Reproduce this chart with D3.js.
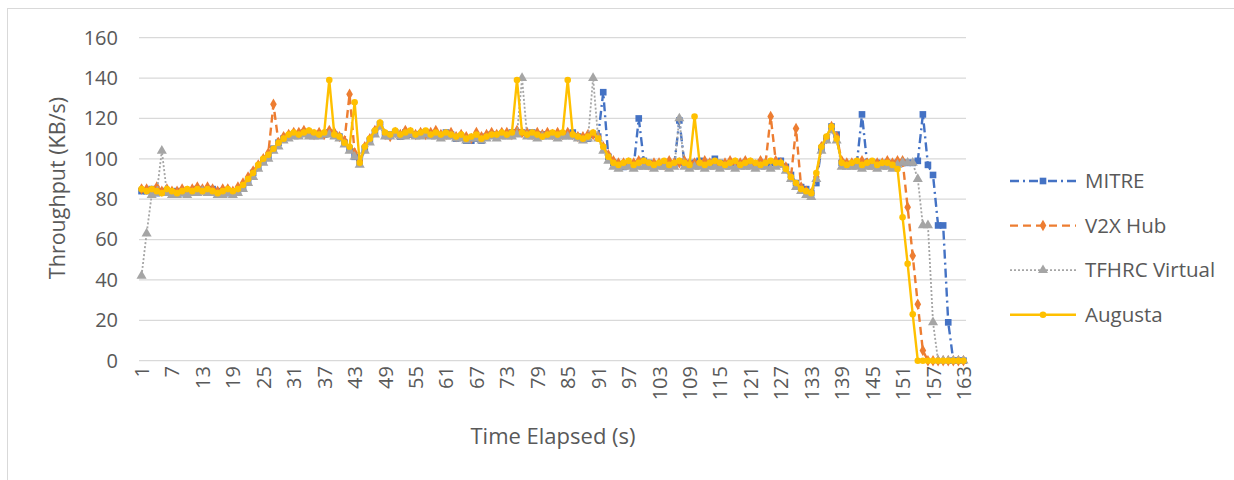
<!DOCTYPE html>
<html>
<head>
<meta charset="utf-8">
<script src="https://d3js.org/d3.v7.min.js"></script>
<style>
  body { margin: 0; background: #fff; }
  text { font-family: "Open Sans", sans-serif; fill: #595959; }
</style>
</head>
<body>
<script>
// seconds 1..163
var seconds = d3.range(1, 164);
var yTicks = [0, 20, 40, 60, 80, 100, 120, 140, 160];

var mitre = [
  84, 84, 85, 83, 84, 84, 83, 84, 83, 84,
  84, 85, 84, 84, 85, 84, 83, 83, 83,
  84, 86, 89, 93, 96, 99, 101, 105, 108, 110, 111,
  112, 112, 113, 113, 112, 112, 112, 113, 112, 111,
  108, 105, 101, 98, 105, 109, 113, 117, 112, 112,
  113, 111, 113, 112, 112, 112, 113, 112, 112, 111,
  113, 112, 110, 111, 109, 109, 110, 109, 111, 112,
  111, 112, 112, 113, 113, 113, 112, 113, 111, 112,
  112, 112, 111, 112, 112, 113, 111, 110, 110, 112,
  111, 133, 101, 98, 97, 96, 97, 96, 120, 99,
  98, 96, 97, 98, 97, 97, 119, 98, 97, 98,
  99, 97, 98, 100, 98, 97, 97, 98, 97, 98,
  98, 97, 98, 97, 98, 98, 99, 96, 92, 88,
  86, 85, 83, 88, 105, 110, 116, 112, 98, 97,
  97, 98, 122, 98, 97, 98, 97, 98, 97, 98,
  98, 98, 98, 99, 122, 97, 92, 67, 67, 19, 0, 0, 0
];

var v2xHub = [
  85, 85, 84, 86, 84, 85, 84, 84, 85, 84,
  85, 86, 85, 86, 85, 84, 85, 85, 84,
  86, 88, 91, 94, 97, 100, 103, 127, 108, 111, 112,
  113, 113, 114, 113, 112, 113, 112, 114, 113, 111,
  109, 132, 103, 99, 106, 110, 114, 117, 112, 111,
  113, 112, 114, 113, 112, 113, 112, 113, 114, 112,
  112, 113, 111, 112, 111, 110, 113, 111, 112, 113,
  112, 113, 113, 112, 114, 113, 113, 112, 113, 112,
  113, 112, 113, 112, 113, 112, 111, 111, 112, 112,
  111, 106, 102, 99, 98, 98, 98, 98, 99, 98,
  97, 98, 98, 97, 99, 98, 98, 99, 98, 98,
  98, 99, 98, 98, 97, 98, 99, 98, 98, 99,
  98, 97, 99, 98, 121, 99, 98, 96, 91, 115,
  86, 84, 83, 91, 106, 110, 116, 111, 99, 98,
  98, 98, 99, 98, 97, 98, 98, 99, 98, 99,
  99, 76, 52, 28, 5, 0, 0, 0, 0, 0, 0, 0, 0
];

var tfhrc = [
  42, 63, 82, 83, 104, 83, 82, 82, 83, 82,
  83, 83, 84, 83, 83, 82, 82, 83, 82,
  83, 85, 88, 91, 95, 98, 100, 104, 106, 109, 110,
  111, 111, 112, 111, 111, 111, 112, 112, 111, 110,
  107, 104, 101, 97, 104, 108, 112, 116, 111, 111,
  112, 111, 111, 112, 111, 111, 112, 111, 111, 110,
  111, 111, 110, 110, 109, 110, 110, 109, 110, 111,
  110, 111, 111, 111, 112, 140, 111, 111, 110, 111,
  111, 111, 110, 111, 111, 111, 110, 109, 110, 140,
  110, 104, 99, 96, 95, 96, 96, 95, 96, 96,
  96, 95, 96, 96, 95, 96, 120, 96, 95, 96,
  96, 95, 96, 96, 95, 96, 96, 95, 96, 96,
  96, 95, 96, 96, 95, 96, 97, 94, 90, 86,
  84, 82, 81, 90, 104, 109, 114, 109, 96, 96,
  96, 96, 95, 96, 96, 95, 96, 96, 95, 97,
  98, 98, 98, 90, 67, 67, 19, 0, 0, 0, 0, 0, 0
];

var augusta = [
  85, 84, 85, 84, 83, 85, 84, 83, 84, 85,
  84, 85, 84, 85, 84, 83, 84, 85, 84,
  85, 87, 90, 93, 97, 100, 102, 105, 108, 110, 112,
  113, 112, 113, 114, 113, 112, 113, 139, 112, 111,
  108, 106, 128, 98, 106, 110, 114, 118, 113, 112,
  114, 112, 113, 114, 112, 113, 114, 112, 113, 112,
  113, 112, 111, 112, 110, 111, 112, 110, 111, 112,
  112, 113, 112, 113, 139, 113, 112, 113, 112, 111,
  112, 113, 112, 113, 139, 112, 111, 110, 111, 113,
  110, 106, 101, 98, 97, 98, 99, 97, 98, 99,
  98, 97, 98, 99, 97, 98, 99, 98, 97, 121,
  98, 97, 98, 99, 98, 97, 98, 99, 97, 98,
  99, 98, 97, 98, 99, 98, 98, 95, 91, 88,
  85, 84, 83, 93, 106, 111, 116, 110, 98, 97,
  98, 99, 97, 98, 99, 97, 98, 98, 97, 95,
  71, 48, 23, 0, 0, 0, 0, 0, 0, 0, 0, 0, 0
];

var series = [
  { name: "MITRE", values: mitre, color: "#4472C4", dash: "9,4,2,4", width: 2.4, symbol: d3.symbolSquare, size: 44 },
  { name: "V2X Hub", values: v2xHub, color: "#ED7D31", dash: "8,5", width: 2.4, symbol: d3.symbolDiamond, size: 38 },
  { name: "TFHRC Virtual", values: tfhrc, color: "#A5A5A5", dash: "2,2", width: 1.8, symbol: d3.symbolTriangle, size: 44 },
  { name: "Augusta", values: augusta, color: "#FFC000", dash: null, width: 2.4, symbol: d3.symbolCircle, size: 34 }
];

var W = 1234, H = 480;
var svg = d3.select("body").append("svg").attr("width", W).attr("height", H);

// outer frame
svg.append("rect").attr("x", 7.5).attr("y", 8.5).attr("width", 1300).attr("height", 500)
  .attr("fill", "none").attr("stroke", "#D9D9D9").attr("stroke-width", 1);

var x = d3.scalePoint().domain(seconds).range([139, 966]).padding(0.5);
var y = d3.scaleLinear().domain([0, 160]).range([360.7, 37.7]);

// gridlines
svg.append("g").selectAll("line").data(yTicks).join("line")
  .attr("x1", 139).attr("x2", 966)
  .attr("y1", function(d) { return y(d); }).attr("y2", function(d) { return y(d); })
  .attr("stroke", "#D9D9D9").attr("stroke-width", 1.3);

// y axis labels
var yAxis = d3.axisLeft(y).tickValues(yTicks).tickSize(0).tickPadding(0);
var gy = svg.append("g").attr("transform", "translate(118,0)").call(yAxis);
gy.select(".domain").remove();
gy.selectAll("text").style("font-size", "20px").attr("fill", "#595959").attr("font-family", null);

// x axis labels (every 6th second)
var xAxis = d3.axisBottom(x).tickValues(seconds.filter(function(d) { return (d - 1) % 6 === 0; }))
  .tickSize(0).tickPadding(0);
var gx = svg.append("g").attr("transform", "translate(0,366)").call(xAxis);
gx.select(".domain").remove();
gx.selectAll("text")
  .style("font-size", "20px").attr("fill", "#595959").attr("font-family", null)
  .attr("transform", "rotate(-90)")
  .attr("x", 0).attr("y", 0).attr("dy", "0.35em")
  .style("text-anchor", "end");

// axis titles
svg.append("text").attr("x", 553).attr("y", 444).attr("text-anchor", "middle")
  .style("font-size", "22px").text("Time Elapsed (s)");
svg.append("text").attr("transform", "translate(65,188) rotate(-90)").attr("text-anchor", "middle")
  .style("font-size", "21.5px").text("Throughput (KB/s)");

// series
var line = d3.line()
  .x(function(d, i) { return x(seconds[i]); })
  .y(function(d) { return y(d); });

series.forEach(function(s) {
  var g = svg.append("g");
  g.append("path").attr("d", line(s.values))
    .attr("fill", "none").attr("stroke", s.color).attr("stroke-width", s.width)
    .attr("stroke-dasharray", s.dash).attr("stroke-linejoin", "round");
  g.selectAll("path.m").data(s.values).join("path").attr("class", "m")
    .attr("d", d3.symbol().type(s.symbol).size(s.size))
    .attr("transform", function(d, i) { return "translate(" + x(seconds[i]) + "," + y(d) + ")"; })
    .attr("fill", s.color);
});

// legend
var legend = svg.append("g").selectAll("g").data(series).join("g")
  .attr("transform", function(d, i) { return "translate(1010," + (181 + i * 44.6) + ")"; });
legend.append("line").attr("x1", 0).attr("x2", 66).attr("y1", 0).attr("y2", 0)
  .attr("stroke", function(d) { return d.color; })
  .attr("stroke-width", function(d) { return d.width; })
  .attr("stroke-dasharray", function(d) { return d.dash; });
legend.append("path")
  .attr("d", function(d) { return d3.symbol().type(d.symbol).size(d.size)(); })
  .attr("transform", "translate(33,0)")
  .attr("fill", function(d) { return d.color; });
legend.append("text").attr("x", 75).attr("y", 0).attr("dy", "0.35em")
  .style("font-size", "20.5px").text(function(d) { return d.name; });
</script>
</body>
</html>
